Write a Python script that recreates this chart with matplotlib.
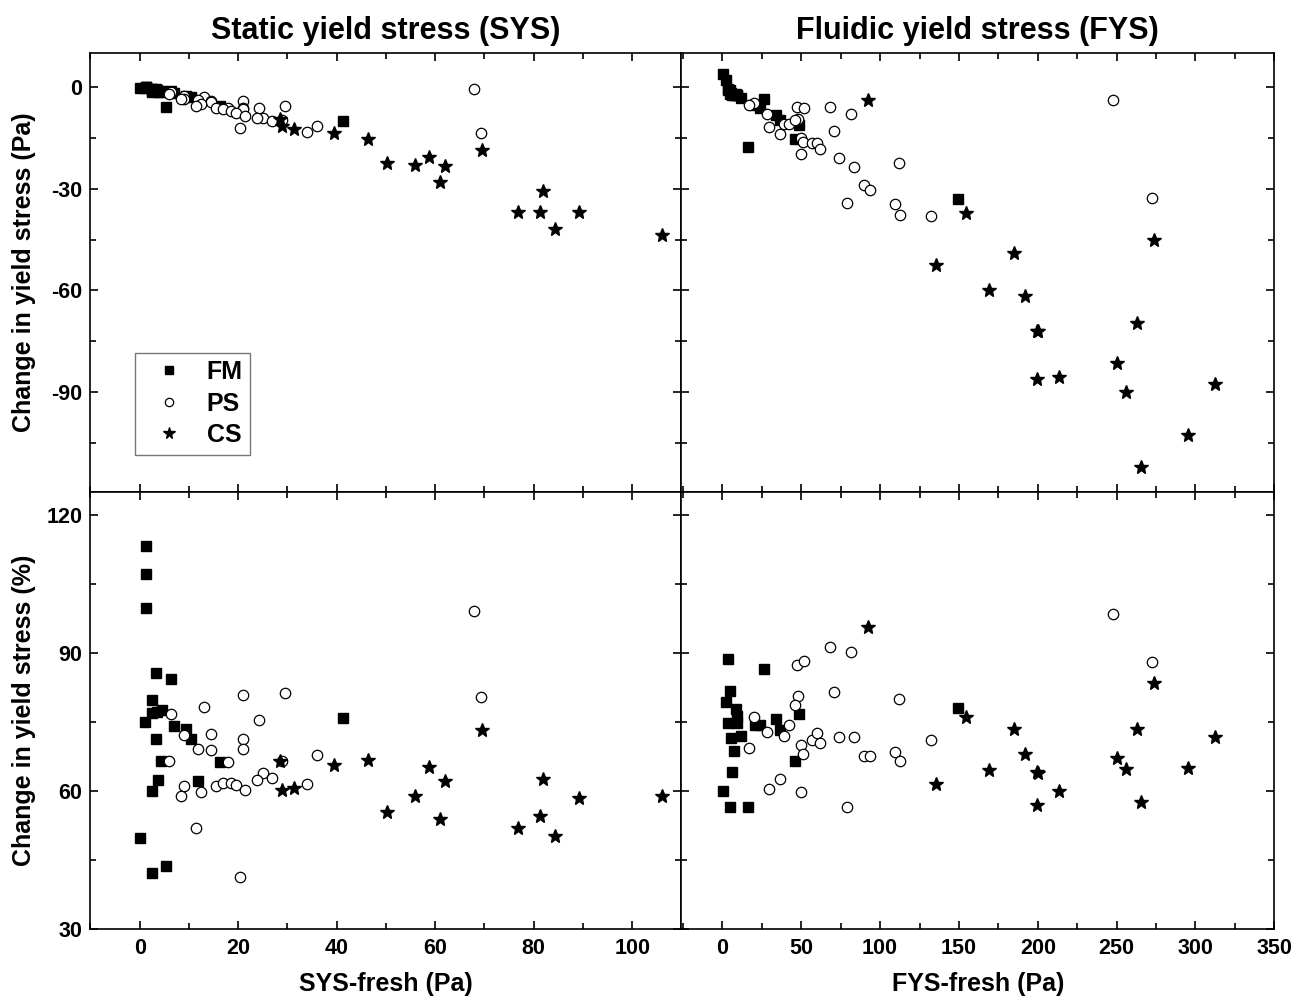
import matplotlib
matplotlib.use("Agg")
import matplotlib.pyplot as plt
from matplotlib.ticker import MultipleLocator

plt.rcParams['font.family'] = ['Liberation Sans', 'DejaVu Sans']
plt.rcParams['font.weight'] = 'bold'
plt.rcParams['axes.unicode_minus'] = False

# ---- SYS (left column) ----
sys_fm_x = [0.14, 1.0, 1.2, 1.35, 1.35, 2.4, 2.4, 2.4, 2.5, 3.4, 3.4, 3.5, 3.8, 4.4, 4.5,
            5.4, 6.3, 6.9, 9.4, 10.4, 11.8, 16.3, 41.3]
sys_fm_pa = [-0.1, -0.3, 0.1, 0.2, 0.0, -0.5, -1.0, -1.4, -0.6, -0.5, -1.0, -0.8, -1.4, -1.5, -1.0,
             -5.9, -1.0, -1.8, -2.5, -3.0, -4.5, -5.5, -9.9]
sys_fm_pct = [49.9, 75.0, 107.3, 113.2, 99.8, 79.9, 60.0, 42.3, 77.1, 85.6, 71.3, 77.3, 62.4, 66.6, 77.7,
              43.8, 84.5, 74.2, 73.6, 71.3, 62.3, 66.3, 75.9]

sys_ps_x = [6.4, 13.0, 20.9, 29.4, 24.3, 8.9, 14.4, 20.9, 11.9, 14.5, 20.9, 5.95, 18.0, 28.9, 35.9, 25.0,
            26.9, 23.9, 34.0, 15.5, 17.0, 18.6, 19.5, 21.4, 8.9, 8.4, 12.4, 11.4, 20.4, 67.9, 69.3]
sys_ps_pa = [-1.5, -2.8, -4.0, -5.5, -6.0, -2.5, -4.0, -6.0, -3.7, -4.5, -6.4, -2.0, -6.1, -9.7, -11.5, -9.0,
             -10.0, -9.0, -13.1, -6.0, -6.5, -7.1, -7.5, -8.5, -3.5, -3.5, -5.0, -5.5, -12.0, -0.6, -13.5]
sys_ps_pct = [76.9, 78.3, 80.9, 81.3, 75.5, 72.2, 72.4, 71.3, 69.2, 69.0, 69.2, 66.6, 66.4, 66.5, 67.9, 64.0,
              62.9, 62.5, 61.5, 61.2, 61.7, 61.7, 61.4, 60.3, 61.1, 58.9, 59.9, 52.1, 41.4, 99.1, 80.5]

sys_cs_x = [28.5, 28.9, 31.3, 39.4, 46.4, 50.3, 55.8, 58.8, 61.9, 60.9, 69.4, 76.9, 81.3, 81.9, 84.4, 89.2, 106.0]
sys_cs_pa = [-9.5, -11.5, -12.3, -13.5, -15.4, -22.4, -22.9, -20.5, -23.4, -28.0, -18.5, -36.9, -36.9, -30.5,
             -41.9, -36.9, -43.6]
sys_cs_pct = [66.6, 60.3, 60.7, 65.8, 66.8, 55.5, 58.9, 65.2, 62.2, 54.0, 73.3, 52.0, 54.6, 62.7, 50.3, 58.6, 58.9]

# ---- FYS (right column) ----
fys_fm_x = [3.6, 26.2, 4.6, 2.1, 8.4, 9.5, 9.5, 3.2, 20.5, 23.7, 33.8, 48.6, 36.4, 11.6, 5.7, 7.2, 45.9,
            6.1, 0.2, 4.8, 16.1, 149.5]
fys_fm_pa = [-0.4, -3.5, -0.8, 2.0, -1.9, -2.2, -2.4, -0.8, -5.2, -6.1, -8.2, -11.3, -9.7, -3.2, -1.6, -2.3,
             -15.3, -2.2, 4.0, -2.1, -17.8, -32.9]
fys_fm_pct = [88.8, 86.6, 81.8, 79.3, 77.8, 76.4, 74.9, 74.9, 74.4, 74.4, 75.7, 76.8, 73.3, 72.1, 71.5, 68.7,
              66.6, 64.3, 60.0, 56.7, 56.7, 78.0]

fys_ps_x = [20.1, 28.5, 38.9, 42.3, 16.9, 36.8, 29.6, 49.5, 47.1, 52.0, 68.1, 81.6, 48.2, 46.1, 70.6, 111.9,
            50.1, 51.2, 56.9, 59.8, 61.9, 73.8, 83.5, 89.5, 93.7, 109.5, 112.7, 132.0, 78.9, 247.7, 272.2]
fys_ps_pa = [-4.8, -7.8, -10.9, -10.8, -5.2, -13.7, -11.7, -19.8, -5.9, -6.0, -5.9, -7.9, -9.4, -9.8, -13.0,
             -22.4, -15.0, -16.3, -16.4, -16.4, -18.3, -20.9, -23.6, -28.9, -30.4, -34.4, -37.6, -38.1,
             -34.3, -3.7, -32.7]
fys_ps_pct = [76.2, 72.8, 72.1, 74.4, 69.4, 62.7, 60.4, 59.9, 87.4, 88.4, 91.3, 90.3, 80.6, 78.7, 81.6, 80.0,
              70.1, 68.2, 71.1, 72.6, 70.4, 71.7, 71.7, 67.7, 67.6, 68.6, 66.6, 71.1, 56.5, 98.5, 88.0]

fys_cs_x = [92.4, 135.4, 154.4, 169.1, 185.2, 191.6, 199.6, 200.4, 199.4, 213.3, 250.1, 255.7, 262.7,
            265.2, 273.8, 295.4, 312.4]
fys_cs_pa = [-3.9, -52.6, -37.0, -60.0, -49.0, -61.5, -71.9, -72.1, -86.1, -85.5, -81.4, -89.9, -69.6,
             -112.1, -45.0, -102.6, -87.5]
fys_cs_pct = [95.6, 61.5, 76.2, 64.6, 73.6, 68.1, 64.1, 64.0, 57.1, 60.0, 67.2, 64.8, 73.5, 57.6, 83.6,
              65.1, 71.9]

fig = plt.figure(figsize=(13.04, 10.08), dpi=100)

lx, lw = 0.0694, 0.4532
rx, rw = 0.5226, 0.4546
ty, th = 0.5119, 0.4352
by, bh = 0.0779, 0.4340

ax_tl = fig.add_axes([lx, ty, lw, th])
ax_tr = fig.add_axes([rx, ty, rw, th])
ax_bl = fig.add_axes([lx, by, lw, bh])
ax_br = fig.add_axes([rx, by, rw, bh])

sq = dict(marker='s', ms=6.8, mfc='black', mec='black', ls='none')
ci = dict(marker='o', ms=7.5, mfc='white', mec='black', mew=0.9, ls='none')
st = dict(marker='*', ms=10.5, mfc='black', mec='black', ls='none')

ax_tl.plot(sys_fm_x, sys_fm_pa, label='FM', **sq)
ax_tl.plot(sys_ps_x, sys_ps_pa, label='PS', **ci)
ax_tl.plot(sys_cs_x, sys_cs_pa, label='CS', **st)

ax_bl.plot(sys_fm_x, sys_fm_pct, **sq)
ax_bl.plot(sys_ps_x, sys_ps_pct, **ci)
ax_bl.plot(sys_cs_x, sys_cs_pct, **st)

ax_tr.plot(fys_fm_x, fys_fm_pa, **sq)
ax_tr.plot(fys_ps_x, fys_ps_pa, **ci)
ax_tr.plot(fys_cs_x, fys_cs_pa, **st)

ax_br.plot(fys_fm_x, fys_fm_pct, **sq)
ax_br.plot(fys_ps_x, fys_ps_pct, **ci)
ax_br.plot(fys_cs_x, fys_cs_pct, **st)

for ax in (ax_tl, ax_bl):
    ax.set_xlim(-10, 110)
    ax.xaxis.set_major_locator(MultipleLocator(20))
    ax.xaxis.set_minor_locator(MultipleLocator(10))
for ax in (ax_tr, ax_br):
    ax.set_xlim(-26, 350)
    ax.xaxis.set_major_locator(MultipleLocator(50))
    ax.xaxis.set_minor_locator(MultipleLocator(25))
for ax in (ax_tl, ax_tr):
    ax.set_ylim(-119.5, 10)
    ax.yaxis.set_major_locator(MultipleLocator(30))
    ax.yaxis.set_minor_locator(MultipleLocator(15))
    ax.tick_params(labelbottom=False)
for ax in (ax_bl, ax_br):
    ax.set_ylim(30, 125)
    ax.yaxis.set_major_locator(MultipleLocator(30))
    ax.yaxis.set_minor_locator(MultipleLocator(15))
for ax in (ax_tr, ax_br):
    ax.tick_params(labelleft=False)

for ax in (ax_tl, ax_tr, ax_bl, ax_br):
    ax.tick_params(which='both', direction='in', top=True, right=True, width=1.2,
                   labelsize=15.5, pad=6)
    ax.tick_params(which='major', length=6)
    ax.tick_params(which='minor', length=4)
    for s in ax.spines.values():
        s.set_linewidth(1.2)
    for lab in ax.get_xticklabels() + ax.get_yticklabels():
        lab.set_fontweight('bold')

ax_tl.set_ylabel('Change in yield stress (Pa)', fontsize=18, fontweight='bold')
ax_bl.set_ylabel('Change in yield stress (%)', fontsize=18, fontweight='bold')
ax_tl.yaxis.set_label_coords(-0.092, 0.5)
ax_bl.yaxis.set_label_coords(-0.092, 0.5)
ax_bl.set_xlabel('SYS-fresh (Pa)', fontsize=18, fontweight='bold')
ax_br.set_xlabel('FYS-fresh (Pa)', fontsize=18, fontweight='bold')
ax_bl.xaxis.set_label_coords(0.5, -0.098)
ax_br.xaxis.set_label_coords(0.5, -0.098)

fig.text(lx + lw / 2, 0.969, 'Static yield stress (SYS)', ha='center', va='center',
         fontsize=22, fontweight='bold')
fig.text(rx + rw / 2, 0.969, 'Fluidic yield stress (FYS)', ha='center', va='center',
         fontsize=22, fontweight='bold')

leg = ax_tl.legend(loc='upper left', bbox_to_anchor=(0.076, 0.318), borderaxespad=0,
                   fancybox=False, prop={'size': 18, 'weight': 'bold'}, handlelength=2.1,
                   handletextpad=0.45, borderpad=0.3, labelspacing=0.3, markerscale=0.8)
leg.get_frame().set_edgecolor('#555555')
leg.get_frame().set_linewidth(1.0)

fig.savefig('out.png', dpi=100)
